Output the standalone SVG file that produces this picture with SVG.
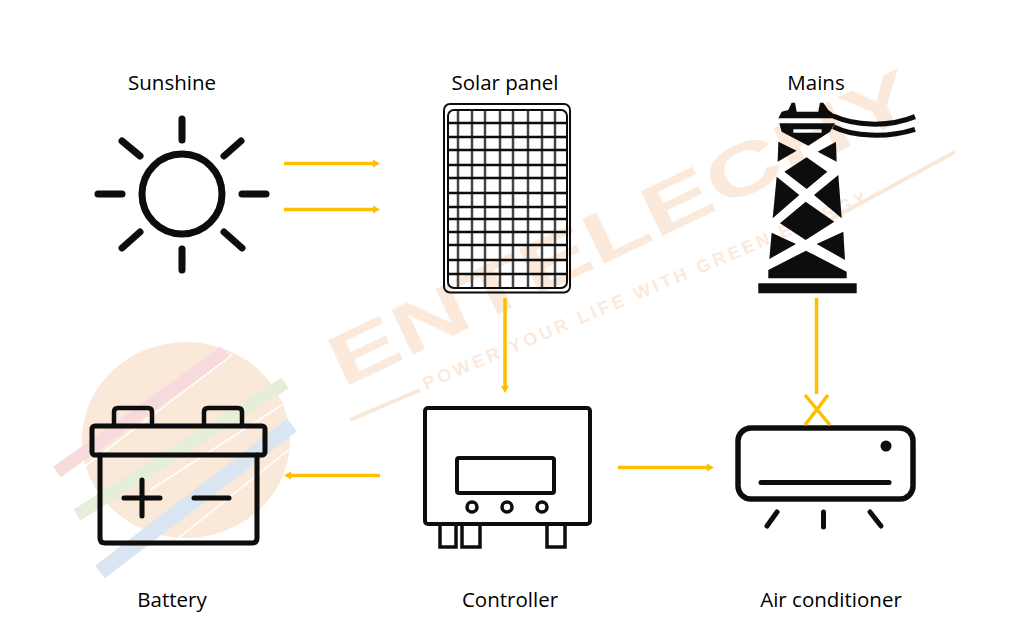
<svg xmlns="http://www.w3.org/2000/svg" width="1010" height="644" viewBox="0 0 1010 644">
<style>
.lbl{font-family:"Open Sans","Noto Sans","Liberation Sans",sans-serif;font-size:20.500px;fill:#000;text-anchor:middle}
.ic{fill:none;stroke:#0c0c0c;stroke-linecap:round;stroke-linejoin:round}
.wire{fill:none;stroke:#0c0c0c;stroke-width:15}
.con{fill:none;stroke:#fdbf00;stroke-width:3.5}
.arr{marker-end:url(#ah)}
.wm{fill:#fbeadb}
.soft{filter:url(#soft)}
</style>
<defs>
<marker id="ah" markerUnits="userSpaceOnUse" markerWidth="8" markerHeight="10" refX="3" refY="5" orient="auto"><path d="M0 1L7 5L0 9Z" fill="#fdbf00"/></marker>
<filter id="soft" x="-5%" y="-5%" width="110%" height="110%"><feGaussianBlur stdDeviation="0.5"/></filter>
<clipPath id="disc"><ellipse cx="186" cy="440" rx="104" ry="98"/></clipPath>
</defs>
<rect width="1010" height="644" fill="#fff"/>
<g id="watermark">
<ellipse cx="186" cy="440" rx="104" ry="98" fill="#fae8d8"/>
<path d="M57 472L225 352" stroke="#f7dadb" stroke-width="13" fill="none"/>
<path d="M77 515L285 383" stroke="#e4eed9" stroke-width="13" fill="none"/>
<path d="M100 572L292 425" stroke="#d9e5f0" stroke-width="16" fill="none"/>
<path d="M80 470L232 355M150 490L282 405M170 545L292 447" stroke="#fff" stroke-width="1.500" fill="none" clip-path="url(#disc)"/>
<text class="wm" transform="translate(343 388) rotate(-25.5)" font-family="Liberation Sans,sans-serif" font-weight="700" font-size="72" textLength="640" lengthAdjust="spacingAndGlyphs">ENTELECHY</text>
<text class="wm" transform="translate(426 390) rotate(-23)" font-family="Liberation Sans,sans-serif" font-weight="700" font-size="18" textLength="480" lengthAdjust="spacing">POWER YOUR LIFE WITH GREEN ENERGY</text>
<path d="M350 420L420 390M800 236L955 152" stroke="#f8e8d8" stroke-width="4" fill="none"/>
</g>
<g id="sunshine">
<g class="soft">
<circle class="ic" cx="182" cy="194" r="40" stroke-width="7"/>
<path class="ic" stroke-width="7" d="M182 119V140M182 249V270M98 194H122M242 194H266M122 141L140 156M241 141L224 156M140 232L122 248M224 232L242 248"/>
</g>
<text class="lbl" x="172" y="90">Sunshine</text>
</g>
<g id="solar-panel">
<g class="soft">
<rect class="ic" x="444" y="104" width="126" height="188.500" rx="6" stroke-width="2"/>
<path d="M458 111V288M472 111V288M485 111V288M500 111V288M513 111V288M528 111V288M542 111V288M555 111V288" stroke="#444" stroke-width="2.500" fill="none"/>
<path d="M448 123H567M448 137H567M448 150H567M448 165H567M448 178H567M448 193H567M448 207H567M448 219H567M448 232H567M448 245H567M448 260H567M448 274H567" stroke="#111" stroke-width="2.500" fill="none"/>
<rect class="ic" x="448" y="110" width="119" height="178" rx="6" stroke-width="2"/>
</g>
<text class="lbl" x="505" y="90">Solar panel</text>
</g>
<g id="mains">
<g class="soft">
<g transform="translate(740 60) scale(.3333)" fill="#0a0a0a">
<path d="M115 175L125 155L145 150L155 128L165 128L170 155L235 155L240 128L250 128L265 150L285 165V175Z"/>
<path fill-rule="evenodd" d="M118 190H285L270 215L205 257L125 215ZM160 208H245V218H160Z"/>
<path d="M115 245L170 272L113 305ZM288 245L233 275L290 305ZM200 292L262 335L200 387L133 335ZM110 350L178 405L98 475ZM295 345L222 405L305 475ZM197 425L283 485L197 540L120 490ZM95 518L168 552L88 597ZM310 515L230 552L315 600ZM198 572L320 635V655H85V630ZM55 670H350V700H55Z"/>
<path class="wire" d="M280 168C340 195 440 205 525 170M280 200C340 230 440 235 525 208"/>
</g>
</g>
<text class="lbl" x="816" y="90">Mains</text>
</g>
<g id="battery">
<g class="soft">
<path class="ic" stroke-width="4.500" d="M114 425V412Q114 408 118 408H148Q152 408 152 412V425M204 425V412Q204 408 208 408H238Q242 408 242 412V425"/>
<rect class="ic" x="92" y="426" width="173" height="29" rx="3" stroke-width="5"/>
<path class="ic" stroke-width="5" d="M100 455V538Q100 543 105 543H252Q257 543 257 538V455"/>
<path class="ic" stroke-width="5" d="M124 498H160M142 480V516M194 498H229"/>
</g>
<text class="lbl" x="172" y="607">Battery</text>
</g>
<g id="controller">
<g class="soft">
<rect class="ic" x="425" y="408" width="165" height="116" rx="3" stroke-width="4"/>
<rect class="ic" x="457" y="458" width="97" height="35" rx="2" stroke-width="4"/>
<circle class="ic" cx="472" cy="507" r="5" stroke-width="3.500"/>
<circle class="ic" cx="507" cy="507" r="5" stroke-width="3.500"/>
<circle class="ic" cx="542" cy="507" r="5" stroke-width="3.500"/>
<path fill="none" stroke="#0c0c0c" stroke-width="3.500" d="M440 525V547H456V525M462 525V547H480V525M547 525V547H565V525"/>
</g>
<text class="lbl" x="510" y="607">Controller</text>
</g>
<g id="air-conditioner">
<g class="soft">
<rect class="ic" x="738" y="428" width="175" height="71" rx="13" stroke-width="5.500"/>
<circle cx="886" cy="446" r="5.500" fill="#0c0c0c"/>
<path class="ic" stroke-width="5" d="M761 482.500H889"/>
<path class="ic" stroke-width="5" d="M767 526L777 512M823.500 512V527M870 512L881 526"/>
</g>
<text class="lbl" x="831" y="607">Air conditioner</text>
</g>
<g id="connectors">
<path class="con arr" d="M284 163.500H376"/>
<path class="con arr" d="M284 209.500H376"/>
<path class="con arr" d="M505 298V389"/>
<path class="con arr" d="M380 475.500H288"/>
<path class="con arr" d="M618 467.500H710"/>
<path class="con" d="M816.500 298V394M805 425L828 395M830 425L805 395"/>
</g>
</svg>
